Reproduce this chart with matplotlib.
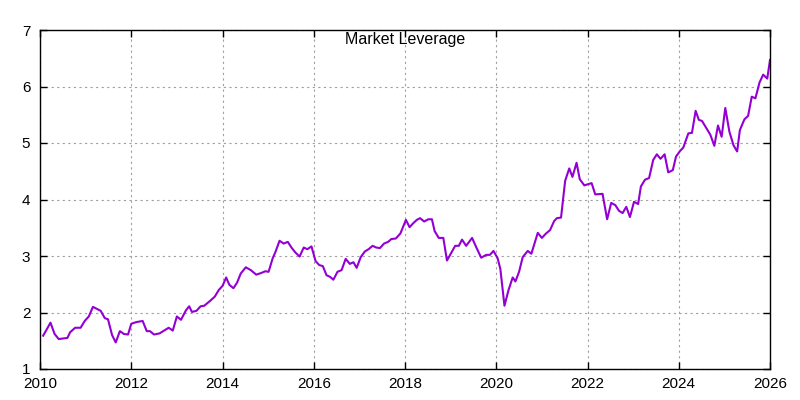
import matplotlib
matplotlib.use("Agg")
import matplotlib.pyplot as plt

# lecture du graphe : annee decimale / levier
years = [
    2010.07, 2010.23, 2010.32, 2010.41, 2010.60, 2010.66, 2010.77, 2010.89, 2010.98,
    2011.07, 2011.16, 2011.33, 2011.42, 2011.49, 2011.58, 2011.66, 2011.75, 2011.84, 2011.93,
    2012.00, 2012.11, 2012.25, 2012.34, 2012.41, 2012.50, 2012.62, 2012.82, 2012.91,
    2013.00, 2013.09, 2013.20, 2013.27, 2013.33, 2013.43, 2013.52, 2013.60, 2013.72, 2013.83, 2013.92,
    2014.00, 2014.08, 2014.15, 2014.24, 2014.32, 2014.40, 2014.51, 2014.62, 2014.74, 2014.85, 2014.94,
    2015.01, 2015.10, 2015.16, 2015.25, 2015.34, 2015.43, 2015.52, 2015.60, 2015.69, 2015.78, 2015.86, 2015.95,
    2016.04, 2016.12, 2016.20, 2016.28, 2016.36, 2016.43, 2016.52, 2016.61, 2016.70, 2016.79, 2016.87, 2016.94,
    2017.03, 2017.12, 2017.20, 2017.29, 2017.37, 2017.45, 2017.54, 2017.63, 2017.70, 2017.80, 2017.90, 2017.96,
    2018.02, 2018.10, 2018.18, 2018.26, 2018.33, 2018.42, 2018.51, 2018.59, 2018.65, 2018.74, 2018.84, 2018.92,
    2019.01, 2019.10, 2019.18, 2019.25, 2019.34, 2019.47, 2019.57, 2019.67, 2019.78, 2019.86, 2019.94,
    2020.03, 2020.09, 2020.18, 2020.27, 2020.36, 2020.42, 2020.50, 2020.58, 2020.69, 2020.77, 2020.91,
    2021.00, 2021.08, 2021.18, 2021.27, 2021.33, 2021.42, 2021.51, 2021.60, 2021.67, 2021.76, 2021.83, 2021.93,
    2022.09, 2022.17, 2022.33, 2022.43, 2022.52, 2022.61, 2022.69, 2022.77, 2022.85, 2022.93,
    2023.02, 2023.11, 2023.17, 2023.26, 2023.35, 2023.44, 2023.52, 2023.60, 2023.69, 2023.77, 2023.87, 2023.94,
    2024.03, 2024.10, 2024.21, 2024.29, 2024.37, 2024.44, 2024.51, 2024.60, 2024.69, 2024.78, 2024.86, 2024.94,
    2025.02, 2025.11, 2025.20, 2025.28, 2025.34, 2025.44, 2025.52, 2025.60, 2025.68, 2025.77, 2025.85, 2025.94,
    2026.00,
]
leverage = [
    1.59, 1.82, 1.62, 1.53, 1.55, 1.65, 1.73, 1.73, 1.85,
    1.93, 2.10, 2.03, 1.90, 1.88, 1.60, 1.47, 1.67, 1.62, 1.61,
    1.80, 1.83, 1.85, 1.67, 1.67, 1.61, 1.63, 1.73, 1.68,
    1.93, 1.87, 2.04, 2.11, 2.01, 2.03, 2.11, 2.12, 2.20, 2.28, 2.40,
    2.47, 2.62, 2.49, 2.43, 2.53, 2.69, 2.80, 2.75, 2.67, 2.70, 2.73,
    2.72, 2.96, 3.07, 3.27, 3.22, 3.25, 3.14, 3.06, 2.99, 3.15, 3.12, 3.17,
    2.91, 2.84, 2.82, 2.66, 2.63, 2.58, 2.72, 2.75, 2.95, 2.86, 2.89, 2.79,
    2.98, 3.08, 3.12, 3.18, 3.15, 3.14, 3.22, 3.25, 3.30, 3.31, 3.40, 3.52,
    3.64, 3.51, 3.58, 3.64, 3.67, 3.61, 3.65, 3.65, 3.44, 3.32, 3.32, 2.92,
    3.05, 3.18, 3.18, 3.29, 3.18, 3.32, 3.14, 2.97, 3.02, 3.02, 3.09,
    2.96, 2.77, 2.12, 2.40, 2.62, 2.55, 2.72, 2.98, 3.09, 3.04, 3.41,
    3.32, 3.39, 3.46, 3.62, 3.67, 3.68, 4.33, 4.55, 4.40, 4.65, 4.36, 4.25,
    4.29, 4.09, 4.10, 3.65, 3.94, 3.90, 3.80, 3.76, 3.87, 3.69,
    3.96, 3.92, 4.23, 4.35, 4.38, 4.70, 4.80, 4.72, 4.80, 4.48, 4.52, 4.76,
    4.86, 4.92, 5.17, 5.18, 5.57, 5.41, 5.39, 5.27, 5.15, 4.95, 5.31, 5.11,
    5.62, 5.20, 4.96, 4.85, 5.23, 5.42, 5.48, 5.82, 5.79, 6.07, 6.21, 6.14,
    6.47,
]
xticks = list(range(2010, 2027, 2))
yticks = list(range(1, 8))

plt.rcParams['font.family'] = ['Liberation Sans', 'DejaVu Sans']

fig = plt.figure(figsize=(8, 4), dpi=100)
ax = fig.add_axes([0.05, 0.0775, 0.9125, 0.8475])

ax.plot(years, leverage, color="#9400d3", linewidth=1.5)

ax.set_xlim(2010, 2026)
ax.set_ylim(1, 7)
ax.set_xticks(xticks)
ax.set_yticks(yticks)
ax.grid(True, color="#a0a0a0", linestyle=(0, (2, 3)), linewidth=0.8)
ax.tick_params(direction="in", length=5, width=1, top=True, right=True,
               labelsize=11, colors="black")
ax.tick_params(axis="x", pad=6)
ax.tick_params(axis="y", pad=7)
for s in ax.spines.values():
    s.set_linewidth(1)

ax.text(0.5, 0.995, "Market Leverage", transform=ax.transAxes,
        ha="center", va="top", fontsize=11.5)

fig.savefig("out.png")
